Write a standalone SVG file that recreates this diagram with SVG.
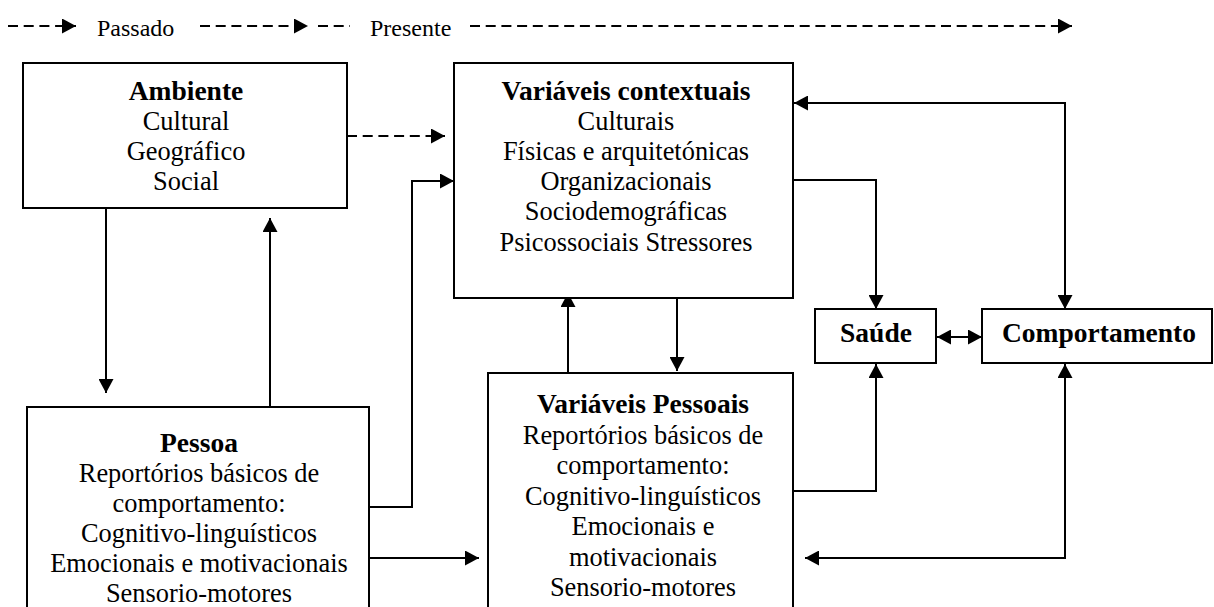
<svg xmlns="http://www.w3.org/2000/svg" width="1214" height="607" viewBox="0 0 1214 607">
  <style>
    .box { fill: #ffffff; stroke: #000000; stroke-width: 2; }
    .t { font-family: "Liberation Serif", "Times New Roman", serif; font-size: 26.4px; fill: #000000; text-anchor: middle; }
    .h { font-family: "Liberation Serif", "Times New Roman", serif; font-size: 27.5px; font-weight: bold; fill: #000000; text-anchor: middle; }
    .lg { font-family: "Liberation Serif", "Times New Roman", serif; font-size: 24px; fill: #000000; }
    .ln { fill: none; stroke: #000000; stroke-width: 2; }
    .dash { stroke-dasharray: 10 5.7; }
    .end { marker-end: url(#arrow); }
    .both { marker-start: url(#arrow); marker-end: url(#arrow); }
  </style>
  <defs>
    <marker id="arrow" markerUnits="userSpaceOnUse" markerWidth="15" markerHeight="15" refX="14" refY="7.5" orient="auto-start-reverse">
      <path d="M0,0 L14,7.5 L0,15 Z" fill="#000000"/>
    </marker>
  </defs>

  <rect width="1214" height="607" fill="#ffffff"/>

  <!-- time legend -->
  <g id="legend">
    <path class="ln dash end" d="M8,26 H76"/>
    <text class="lg" x="97" y="36">Passado</text>
    <path class="ln dash end" d="M200,26 H308"/>
    <path class="ln dash" d="M318,26 H350"/>
    <text class="lg" x="370" y="36">Presente</text>
    <path class="ln dash end" d="M470,26 H1072"/>
  </g>

  <!-- connectors -->
  <g id="connectors">
    <!-- Ambiente to contextual variables (dashed) -->
    <path class="ln dash end" d="M347,136 H445"/>
    <!-- Ambiente down to Pessoa -->
    <path class="ln end" d="M106,208 V393"/>
    <!-- Pessoa up to Ambiente -->
    <path class="ln end" d="M270,407 V218"/>
    <!-- Pessoa to contextual variables -->
    <path class="ln end" d="M369,507 H412 V181 H454"/>
    <!-- Pessoa to personal variables -->
    <path class="ln end" d="M369,558 H479"/>
    <!-- personal variables up to contextual variables -->
    <path class="ln end" d="M568,373 V293"/>
    <!-- contextual variables down to personal variables -->
    <path class="ln end" d="M677,298 V371"/>
    <!-- contextual variables to Saúde -->
    <path class="ln end" d="M793,180 H876 V309"/>
    <!-- personal variables to Saúde -->
    <path class="ln end" d="M793,491 H876 V364"/>
    <!-- Saúde and Comportamento -->
    <path class="ln both" d="M937,337 H982"/>
    <!-- contextual variables and Comportamento -->
    <path class="ln both" d="M794,103 H1065 V309"/>
    <!-- Comportamento and personal variables -->
    <path class="ln both" d="M1065,364 V558 H805"/>
  </g>

  <g id="ambiente">
    <rect class="box" x="23" y="63" width="324" height="145"/>
    <text class="h" x="186" y="100">Ambiente</text>
    <text class="t" x="186" y="130">Cultural</text>
    <text class="t" x="186" y="160">Geográfico</text>
    <text class="t" x="186" y="190">Social</text>
  </g>

  <g id="variaveis-contextuais">
    <rect class="box" x="454" y="63" width="339" height="235"/>
    <text class="h" x="626" y="100">Variáveis contextuais</text>
    <text class="t" x="626" y="130">Culturais</text>
    <text class="t" x="626" y="160">Físicas e arquitetónicas</text>
    <text class="t" x="626" y="190">Organizacionais</text>
    <text class="t" x="626" y="220">Sociodemográficas</text>
    <text class="t" x="626" y="251">Psicossociais Stressores</text>
  </g>

  <g id="saude">
    <rect class="box" x="815" y="309" width="121" height="54"/>
    <text class="h" x="876" y="342">Saúde</text>
  </g>

  <g id="comportamento">
    <rect class="box" x="982" y="309" width="230" height="54"/>
    <text class="h" x="1099" y="342">Comportamento</text>
  </g>

  <g id="pessoa">
    <rect class="box" x="27" y="407" width="342" height="220"/>
    <text class="h" x="199" y="452">Pessoa</text>
    <text class="t" x="199" y="482">Reportórios básicos de</text>
    <text class="t" x="199" y="512">comportamento:</text>
    <text class="t" x="199" y="542">Cognitivo-linguísticos</text>
    <text class="t" x="199" y="572">Emocionais e motivacionais</text>
    <text class="t" x="199" y="602">Sensorio-motores</text>
  </g>

  <g id="variaveis-pessoais">
    <rect class="box" x="488" y="373" width="305" height="254"/>
    <text class="h" x="643" y="413">Variáveis Pessoais</text>
    <text class="t" x="643" y="444">Reportórios básicos de</text>
    <text class="t" x="643" y="474">comportamento:</text>
    <text class="t" x="643" y="505">Cognitivo-linguísticos</text>
    <text class="t" x="643" y="535">Emocionais e</text>
    <text class="t" x="643" y="566">motivacionais</text>
    <text class="t" x="643" y="596">Sensorio-motores</text>
  </g>
</svg>
